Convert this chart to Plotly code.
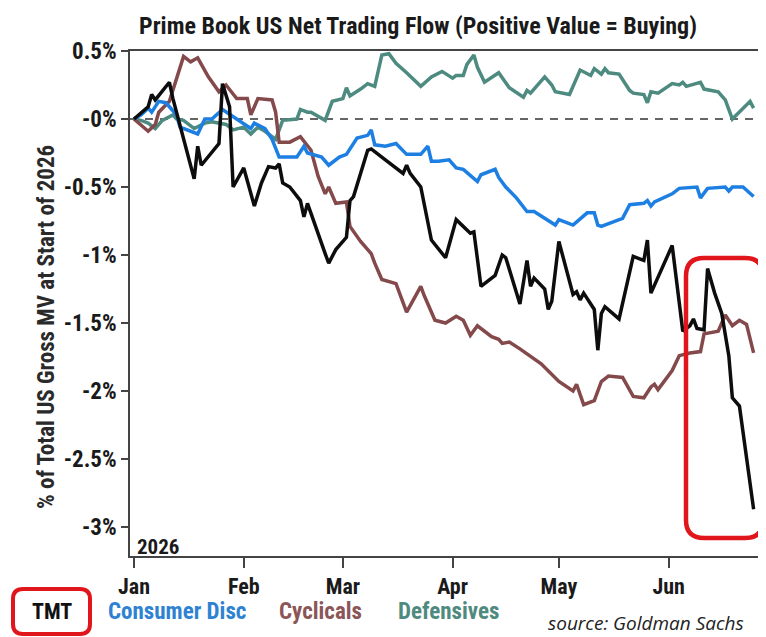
import plotly.graph_objects as go

YEAR = "2026"

# ---- data (values in % of total US gross MV) ----
tmt_dates = ["01-01","01-05","01-06","01-07","01-11","01-12","01-18","01-19","01-20","01-25","01-26","01-28","01-29",
             "02-01","02-04","02-06","02-08","02-10","02-11","02-12","02-14","02-17","02-18","02-19","02-24","02-25","02-27",
             "03-02","03-03","03-04","03-08","03-09","03-13","03-18","03-19","03-20","03-23","03-26","03-30",
             "04-02","04-06","04-07","04-09","04-13","04-15","04-16","04-20","04-22","04-23","04-24","04-27","04-28","04-29",
             "05-01","05-05","05-06","05-07","05-08","05-11","05-12","05-13","05-14","05-18","05-22","05-24","05-25","05-26","05-27",
             "06-02","06-05","06-07","06-08","06-09","06-11","06-12","06-14","06-16","06-18","06-19","06-21","06-25"]
tmt_values = [0, 0.09, 0.18, 0.14, 0.27, 0.15, -0.44, -0.20, -0.34, -0.18, 0.26, 0.09, -0.50,
              -0.36, -0.64, -0.47, -0.35, -0.36, -0.33, -0.47, -0.50, -0.60, -0.72, -0.62, -0.99, -1.06, -0.96,
              -0.87, -0.60, -0.57, -0.23, -0.22, -0.30, -0.40, -0.34, -0.40, -0.50, -0.89, -1.02,
              -0.74, -0.84, -0.83, -1.23, -1.15, -1.00, -1.02, -1.36, -1.04, -1.23, -1.17, -1.25, -1.40, -1.34,
              -0.90, -1.29, -1.27, -1.33, -1.28, -1.40, -1.70, -1.43, -1.38, -1.47, -1.01, -1.03, -1.04, -0.89, -1.28,
              -0.93, -1.56, -1.52, -1.47, -1.54, -1.55, -1.10, -1.28, -1.43, -1.74, -2.05, -2.11, -2.87]

cons_dates = ["01-01","01-03","01-05","01-06","01-08","01-10","01-11","01-13","01-14","01-19","01-21","01-23","01-26","01-29","01-31",
              "02-03","02-04","02-07","02-09","02-11","02-16","02-18","02-19","02-23","02-25","02-28",
              "03-02","03-05","03-08","03-09","03-10","03-13","03-16","03-19","03-23","03-25","03-26","03-28","03-31",
              "04-02","04-04","04-08","04-09","04-13","04-14","04-16","04-19","04-22","04-24","04-30",
              "05-01","05-05","05-09","05-11","05-12","05-13","05-19","05-21","05-25","05-26","05-27","05-28",
              "06-02","06-04","06-09","06-10","06-12","06-17","06-18","06-19","06-22","06-25"]
cons_values = [0, 0.03, 0.08, 0.05, 0.13, 0.12, 0.09, 0.03, -0.06, -0.11, 0.00, 0.00, 0.07, 0.02, -0.02,
               -0.07, -0.03, -0.07, -0.15, -0.28, -0.28, -0.20, -0.25, -0.28, -0.34, -0.28,
               -0.26, -0.14, -0.12, -0.08, -0.19, -0.20, -0.18, -0.26, -0.26, -0.20, -0.31, -0.31, -0.30,
               -0.36, -0.37, -0.46, -0.41, -0.37, -0.43, -0.50, -0.58, -0.68, -0.68, -0.78,
               -0.74, -0.78, -0.69, -0.69, -0.78, -0.79, -0.73, -0.63, -0.62, -0.60, -0.64, -0.61,
               -0.55, -0.51, -0.50, -0.58, -0.51, -0.50, -0.53, -0.50, -0.50, -0.57]

cyc_dates = ["01-01","01-05","01-07","01-08","01-11","01-15","01-17","01-19","01-22","01-25","01-27","01-30",
             "02-02","02-03","02-05","02-09","02-10","02-11","02-14","02-17","02-20","02-22","02-24","02-25","02-27",
             "03-02","03-03","03-06","03-09","03-10","03-12","03-16","03-19","03-23","03-24","03-27","03-30",
             "04-02","04-04","04-06","04-08","04-12","04-14","04-15","04-17","04-20","04-26","04-28",
             "05-01","05-05","05-06","05-08","05-11","05-13","05-15","05-19","05-22","05-25","05-27","05-28","05-29",
             "06-02","06-04","06-07","06-10","06-11","06-15","06-17","06-19","06-21","06-23","06-25"]
cyc_values = [0, -0.09, -0.04, 0.05, 0.13, 0.46, 0.42, 0.45, 0.31, 0.20, 0.25, 0.15,
              0.15, 0.03, 0.15, 0.14, 0.05, -0.17, -0.17, -0.13, -0.23, -0.42, -0.55, -0.50, -0.62,
              -0.61, -0.79, -0.90, -0.99, -1.06, -1.18, -1.21, -1.42, -1.23, -1.30, -1.48, -1.50,
              -1.45, -1.48, -1.59, -1.52, -1.60, -1.62, -1.65, -1.64, -1.69, -1.80, -1.85,
              -1.93, -2.00, -1.95, -2.10, -2.07, -1.93, -1.89, -1.90, -2.04, -2.05, -1.97, -1.95, -1.99,
              -1.85, -1.74, -1.72, -1.71, -1.58, -1.56, -1.44, -1.52, -1.48, -1.51, -1.72]

def_dates = ["01-01","01-03","01-05","01-07","01-09","01-12","01-13","01-15","01-18","01-21","01-23","01-27","01-29",
             "02-01","02-03","02-05","02-07","02-10","02-12","02-16","02-17","02-19","02-20","02-24","02-26",
             "03-01","03-02","03-03","03-06","03-08","03-10","03-12","03-14","03-16","03-19","03-23","03-26","03-29",
             "04-01","04-02","04-04","04-05","04-07","04-08","04-10","04-14","04-17","04-21","04-22","04-23","04-27","04-29","04-30",
             "05-04","05-07","05-10","05-11","05-13","05-14","05-15","05-18","05-21","05-22","05-25","05-26","05-27","05-29",
             "06-02","06-04","06-05","06-06","06-10","06-11","06-15","06-17","06-19","06-24","06-25"]
def_values = [0, -0.01, -0.03, -0.07, -0.01, 0.03, 0.00, -0.01, -0.07, -0.03, -0.02, -0.04, -0.08,
              -0.06, -0.11, -0.06, -0.09, -0.15, -0.01, 0.00, 0.07, 0.05, 0.05, -0.01, 0.13,
              0.15, 0.23, 0.17, 0.22, 0.26, 0.24, 0.47, 0.48, 0.41, 0.34, 0.24, 0.31, 0.35,
              0.30, 0.32, 0.32, 0.40, 0.47, 0.38, 0.27, 0.34, 0.23, 0.16, 0.21, 0.19, 0.31, 0.25, 0.20,
              0.18, 0.36, 0.32, 0.37, 0.33, 0.37, 0.34, 0.33, 0.21, 0.19, 0.18, 0.12, 0.20, 0.19,
              0.26, 0.25, 0.27, 0.24, 0.27, 0.22, 0.20, 0.14, 0.00, 0.13, 0.08]

series_names = ["TMT", "Consumer Disc", "Cyclicals", "Defensives"]
series_colors = ["#0d0d0d", "#1d7fe2", "#84494b", "#4d8a80"]
label_colors = ["#111111", "#2f82d2", "#8b5657", "#4f8a80"]

month_ticks = ["01-01", "02-01", "03-01", "04-01", "05-01", "06-01"]
month_labels = ["Jan", "Feb", "Mar", "Apr", "May", "Jun"]
y_ticks = [0.5, 0, -0.5, -1, -1.5, -2, -2.5, -3]
y_labels = ["0.5%", "-0%", "-0.5%", "-1%", "-1.5%", "-2%", "-2.5%", "-3%"]

def full(d):
    return [f"{YEAR}-{s}" for s in d]

FONT = "Roboto Condensed, Roboto, sans-serif"

fig = go.Figure()
data = {
    "TMT": (tmt_dates, tmt_values),
    "Consumer Disc": (cons_dates, cons_values),
    "Cyclicals": (cyc_dates, cyc_values),
    "Defensives": (def_dates, def_values),
}
for name in ["Defensives", "Cyclicals", "Consumer Disc", "TMT"]:
    i = series_names.index(name)
    d, v = data[name]
    fig.add_trace(go.Scatter(x=full(d), y=v, mode="lines", name=name,
                             line=dict(color=series_colors[i], width=3.5)))

# page is shown with an 8px body margin, so the figure is offset by 8px
OFF = 8
PAGE_W, PAGE_H = 766, 637
PL, PT, PR, PB = 130, 51, 766, 556          # plot area in page pixels
W, H = PAGE_W - OFF, PAGE_H - OFF
L, T, R, B = PL - OFF, PT - OFF, PAGE_W - PR, PAGE_H - PB
PW, PH = PR - PL, PB - PT

def px(x):
    return (x - PL) / PW

def py(y):
    return (PB - y) / PH

def rounded_rect(x0, y0, x1, y1, r):
    def P(x, y):
        return f"{px(x):.5f},{py(y):.5f}"
    return (f"M {P(x0 + r, y0)} L {P(x1 - r, y0)} Q {P(x1, y0)} {P(x1, y0 + r)} "
            f"L {P(x1, y1 - r)} Q {P(x1, y1)} {P(x1 - r, y1)} L {P(x0 + r, y1)} "
            f"Q {P(x0, y1)} {P(x0, y1 - r)} L {P(x0, y0 + r)} Q {P(x0, y0)} {P(x0 + r, y0)} Z")

shapes = [
    dict(type="line", xref="paper", yref="y", x0=0, x1=1, y0=0, y1=0,
         line=dict(color="#333333", width=1.5, dash="8px,7px"), layer="below"),
    dict(type="path", xref="paper", yref="paper", path=rounded_rect(686, 258, 763, 538, 18),
         line=dict(color="#e0161c", width=4.5)),
    dict(type="path", xref="paper", yref="paper", path=rounded_rect(13, 589, 90, 634, 10),
         line=dict(color="#e0161c", width=4)),
]

ann = [
    dict(text="<b>Prime Book US Net Trading Flow (Positive Value = Buying)</b>", x=px(418), y=py(26),
         font=dict(size=24, color="#1a1a1a")),
    dict(text="<b>% of Total US Gross MV at Start of 2026</b>", x=px(46), y=py(327), textangle=-90,
         font=dict(size=23, color="#2a2a2a")),
    dict(text="<b>2026</b>", x=px(135), y=py(547), xanchor="left", font=dict(size=21, color="#1a1a1a")),
    dict(text="<b>TMT</b>", x=px(52), y=py(611), font=dict(size=22, color=label_colors[0])),
    dict(text="<b>Consumer Disc</b>", x=px(106), y=py(611), xanchor="left", font=dict(size=23, color=label_colors[1])),
    dict(text="<b>Cyclicals</b>", x=px(277), y=py(611), xanchor="left", font=dict(size=23, color=label_colors[2])),
    dict(text="<b>Defensives</b>", x=px(396), y=py(611), xanchor="left", font=dict(size=23, color=label_colors[3])),
    dict(text="<i>source: Goldman Sachs</i>", x=px(746), y=py(623), xanchor="right",
         font=dict(size=19, color="#222222", family="Open Sans, sans-serif")),
]
for a in ann:
    a.setdefault("xanchor", "center")
    a.update(xref="paper", yref="paper", showarrow=False, yanchor="middle")
    a["font"].setdefault("family", FONT)

fig.update_layout(
    width=W, height=H,
    margin=dict(l=L, r=R, t=T, b=B, autoexpand=False),
    paper_bgcolor="white", plot_bgcolor="white",
    showlegend=False,
    font=dict(family=FONT, color="#1a1a1a"),
    shapes=shapes, annotations=ann,
    xaxis=dict(type="date", range=["2025-12-30 21:00", "2026-06-28 12:00"],
               tickvals=full(month_ticks), ticktext=month_labels,
               ticks="outside", ticklen=10, tickwidth=1.5, tickcolor="#444",
               showline=True, linecolor="#444", linewidth=1.5, mirror=True,
               showgrid=False, zeroline=False, automargin=False,
               tickfont=dict(family=FONT, size=22, color="#1a1a1a", weight="bold")),
    yaxis=dict(range=[-3.213, 0.5], tickvals=y_ticks, ticktext=y_labels,
               ticks="outside", ticklen=7, tickwidth=1.5, tickcolor="#444",
               showline=True, linecolor="#444", linewidth=1.5,
               showgrid=False, zeroline=False, automargin=False,
               tickfont=dict(family=FONT, size=23, color="#1a1a1a", weight="bold")),
)

fig.write_html("out.html")
